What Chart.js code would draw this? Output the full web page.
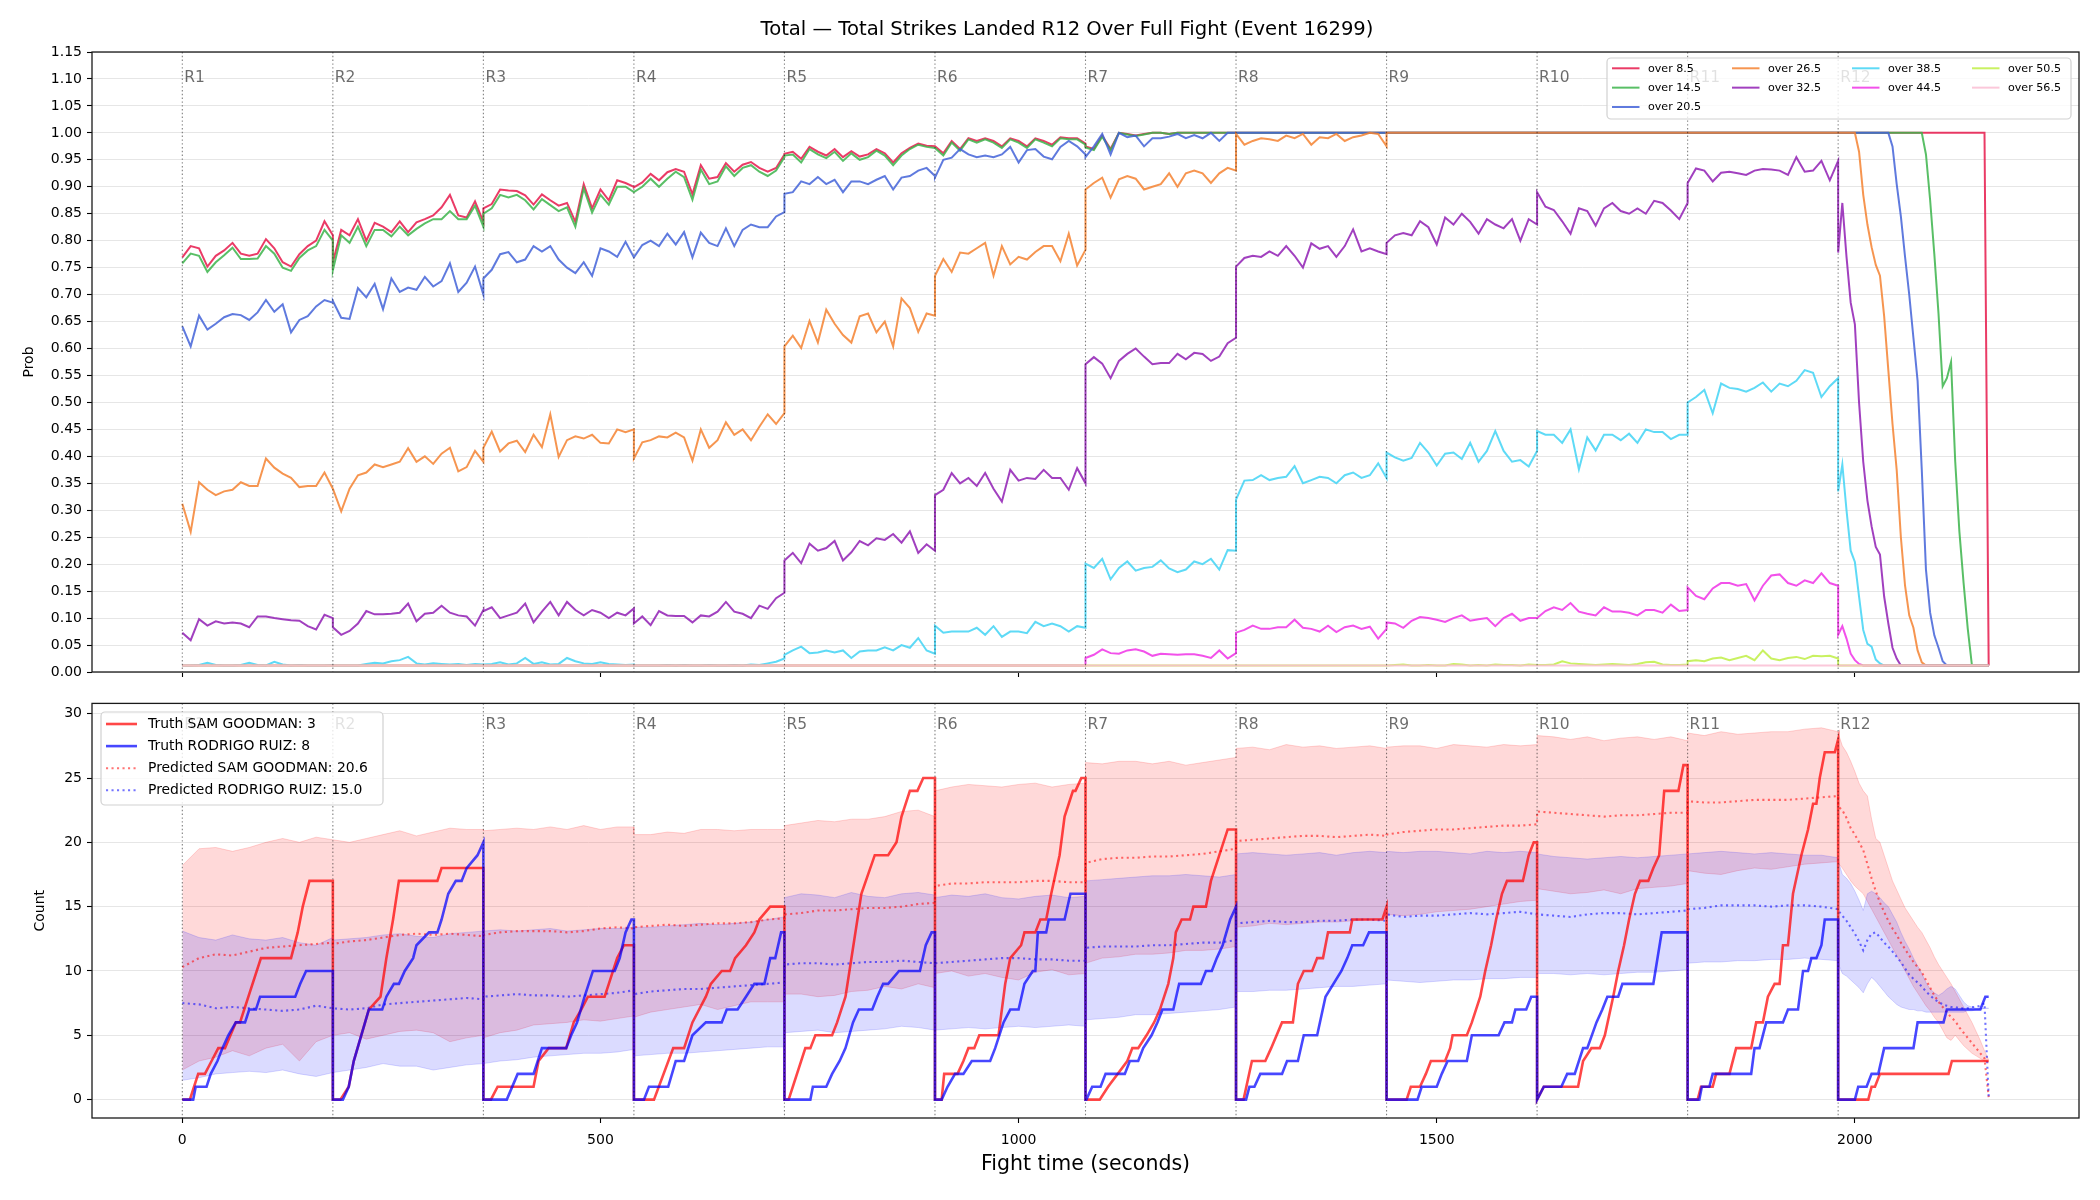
<!DOCTYPE html>
<html><head><meta charset="utf-8">
<script src="https://cdn.jsdelivr.net/npm/chart.js@4.4.1/dist/chart.umd.min.js"></script>
<style>
html,body{margin:0;padding:0;background:#fff;}
#wrap{position:relative;width:2100px;height:1200px;background:#fff;}
canvas{position:absolute;left:0;}
#c1{top:0;}
#c2{top:690px;}
</style></head><body>
<div id="wrap"><canvas id="c1" width="2100" height="690"></canvas><canvas id="c2" width="2100" height="510"></canvas></div>
<script>
// ---------------- data ----------------
const titleText = 'Total \u2014 Total Strikes Landed R12 Over Full Fight (Event 16299)';
const roundStarts = [0,180,360,540,720,900,1080,1260,1440,1620,1800,1980];
const roundNames = ['R1','R2','R3','R4','R5','R6','R7','R8','R9','R10','R11','R12'];
const timeTicks = [0,500,1000,1500,2000];
const probTicks = [0,0.05,0.10,0.15,0.20,0.25,0.30,0.35,0.40,0.45,0.50,0.55,0.60,0.65,0.70,0.75,0.80,0.85,0.90,0.95,1.00,1.05,1.10,1.15];
const countTicks = [0,5,10,15,20,25,30];
const thresholdNames = ['over 8.5','over 14.5','over 20.5','over 26.5','over 32.5','over 38.5','over 44.5','over 50.5','over 56.5'];

// probability per round (R1..R11 sampled every 10 s, a single number = flat round), R12 sampled every 5 s
const p8_5 = [
 [0.769,0.79,0.786,0.752,0.772,0.782,0.796,0.776,0.772,0.776,0.803,0.786,0.76,0.752,0.775,0.79,0.8,0.836,0.81],
 [0.76,0.82,0.81,0.84,0.80,0.833,0.826,0.816,0.836,0.816,0.834,0.84,0.847,0.862,0.885,0.847,0.843,0.873,0.835],
 [0.86,0.868,0.895,0.893,0.892,0.884,0.867,0.886,0.875,0.865,0.87,0.835,0.905,0.86,0.895,0.875,0.912,0.907,0.9],
 [0.899,0.908,0.924,0.912,0.927,0.933,0.928,0.886,0.94,0.915,0.918,0.944,0.928,0.941,0.946,0.935,0.928,0.935,0.96],
 [0.961,0.965,0.952,0.974,0.965,0.958,0.97,0.955,0.966,0.956,0.96,0.97,0.962,0.945,0.962,0.972,0.98,0.976,0.975],
 [0.975,0.962,0.985,0.97,0.99,0.985,0.99,0.985,0.975,0.99,0.985,0.975,0.99,0.985,0.978,0.992,0.99,0.99,0.98],
 [0.975,0.97,0.995,0.97,1,0.998,0.995,0.998,1,1,0.998,1,1,1,1,1,1,1,1],
 1,1,1,1];
const p8_5_r12 = [1,1,1,1,1,1,1,1,1,1,1,1,1,1,1,1,1,1,1,1,1,1,1,1,1,1,1,1,1,1,1,1,1,1,1,1,0.012];

const p14_5 = [
 [0.758,0.776,0.772,0.742,0.76,0.773,0.787,0.766,0.766,0.767,0.79,0.776,0.75,0.744,0.768,0.782,0.79,0.82,0.8],
 [0.745,0.81,0.796,0.826,0.79,0.82,0.82,0.808,0.826,0.81,0.822,0.832,0.84,0.84,0.855,0.84,0.84,0.865,0.826],
 [0.85,0.86,0.885,0.88,0.885,0.875,0.858,0.877,0.866,0.855,0.862,0.826,0.897,0.852,0.885,0.867,0.9,0.9,0.89],
 [0.89,0.9,0.915,0.9,0.915,0.928,0.918,0.876,0.932,0.905,0.91,0.938,0.92,0.935,0.94,0.928,0.92,0.93,0.955],
 [0.958,0.96,0.945,0.97,0.96,0.953,0.965,0.948,0.962,0.95,0.955,0.967,0.958,0.94,0.958,0.97,0.978,0.974,0.972],
 [0.972,0.958,0.982,0.967,0.988,0.982,0.988,0.982,0.972,0.988,0.982,0.972,0.988,0.982,0.975,0.99,0.988,0.988,0.978],
 [0.973,0.968,0.993,0.968,1,0.997,0.994,0.997,1,1,0.998,1,1,1,1,1,1,1,1],
 1,1,1,1];
const p14_5_r12 = [1,1,1,1,1,1,1,1,1,1,1,1,1,1,1,1,1,1,1,1,1,0.96,0.875,0.775,0.665,0.53,0.545,0.575,0.39,0.26,0.165,0.08,0.012,0.012,0.012,0.012,0.012];

const p20_5 = [
 [0.641,0.604,0.661,0.635,0.646,0.658,0.664,0.662,0.653,0.667,0.69,0.668,0.682,0.63,0.653,0.66,0.678,0.69,0.685],
 [0.688,0.657,0.655,0.712,0.695,0.72,0.673,0.73,0.705,0.713,0.709,0.733,0.715,0.725,0.758,0.705,0.722,0.752,0.70],
 [0.73,0.746,0.775,0.779,0.76,0.765,0.79,0.78,0.79,0.765,0.75,0.74,0.76,0.735,0.786,0.78,0.77,0.798,0.769],
 [0.769,0.792,0.8,0.79,0.813,0.793,0.816,0.769,0.815,0.796,0.79,0.823,0.79,0.82,0.83,0.825,0.825,0.845,0.853],
 [0.887,0.89,0.91,0.905,0.918,0.905,0.913,0.89,0.91,0.91,0.905,0.913,0.92,0.895,0.917,0.92,0.93,0.935,0.92],
 [0.917,0.95,0.954,0.97,0.96,0.955,0.958,0.955,0.96,0.974,0.945,0.968,0.97,0.956,0.951,0.974,0.985,0.975,0.96],
 [0.955,0.975,0.998,0.96,1,0.992,0.995,0.975,0.99,0.99,0.993,0.998,0.99,0.996,0.99,1,0.985,1,1],
 1,1,1,1];
const p20_5_r12 = [1,1,1,1,1,1,1,1,1,1,1,1,1,0.975,0.905,0.845,0.77,0.7,0.62,0.54,0.375,0.19,0.11,0.068,0.045,0.02,0.012,0.012,0.012,0.012,0.012,0.012,0.012,0.012,0.012,0.012,0.012];

const p26_5 = [
 [0.312,0.26,0.352,0.338,0.328,0.335,0.338,0.352,0.345,0.345,0.396,0.379,0.368,0.36,0.343,0.345,0.345,0.37,0.34],
 [0.34,0.298,0.34,0.365,0.37,0.385,0.38,0.385,0.39,0.415,0.39,0.4,0.386,0.405,0.416,0.372,0.38,0.41,0.39],
 [0.416,0.446,0.409,0.424,0.429,0.408,0.44,0.417,0.478,0.399,0.43,0.437,0.433,0.44,0.425,0.424,0.45,0.445,0.45],
 [0.396,0.426,0.43,0.437,0.435,0.444,0.435,0.392,0.45,0.416,0.43,0.463,0.44,0.45,0.43,0.455,0.478,0.46,0.48],
 [0.604,0.624,0.601,0.651,0.611,0.672,0.646,0.625,0.611,0.66,0.665,0.63,0.65,0.604,0.693,0.675,0.631,0.665,0.661],
 [0.735,0.766,0.742,0.778,0.776,0.786,0.796,0.735,0.79,0.756,0.77,0.765,0.779,0.79,0.79,0.762,0.813,0.754,0.783],
 [0.895,0.907,0.917,0.88,0.914,0.92,0.915,0.895,0.9,0.905,0.925,0.9,0.925,0.93,0.925,0.907,0.925,0.935,0.93],
 [0.998,0.978,0.985,0.99,0.988,0.985,0.995,0.99,0.998,0.978,0.992,0.99,0.998,0.985,0.992,0.995,1,0.998,0.975],
 1,1,1];
const p26_5_r12 = [1,1,1,1,1,0.965,0.885,0.83,0.788,0.755,0.735,0.66,0.56,0.46,0.375,0.25,0.16,0.105,0.082,0.04,0.018,0.012,0.012,0.012,0.012,0.012,0.012,0.012,0.012,0.012,0.012,0.012,0.012,0.012,0.012,0.012,0.012];

const p32_5 = [
 [0.073,0.059,0.098,0.086,0.094,0.09,0.092,0.09,0.083,0.103,0.103,0.1,0.098,0.096,0.095,0.085,0.079,0.106,0.1],
 [0.083,0.069,0.076,0.09,0.113,0.107,0.107,0.108,0.11,0.127,0.094,0.108,0.11,0.123,0.11,0.105,0.103,0.086,0.115],
 [0.113,0.12,0.1,0.105,0.11,0.127,0.092,0.112,0.13,0.105,0.13,0.115,0.105,0.115,0.11,0.1,0.11,0.105,0.118],
 [0.09,0.103,0.087,0.113,0.105,0.104,0.104,0.092,0.105,0.103,0.112,0.13,0.112,0.108,0.1,0.123,0.117,0.137,0.147],
 [0.207,0.221,0.202,0.238,0.225,0.23,0.243,0.207,0.222,0.243,0.235,0.248,0.245,0.256,0.24,0.261,0.221,0.237,0.225],
 [0.328,0.338,0.369,0.35,0.36,0.345,0.369,0.34,0.316,0.375,0.355,0.36,0.358,0.375,0.36,0.36,0.338,0.378,0.35],
 [0.571,0.584,0.572,0.545,0.577,0.59,0.6,0.585,0.571,0.573,0.573,0.59,0.58,0.592,0.59,0.577,0.585,0.61,0.62],
 [0.752,0.768,0.772,0.77,0.78,0.772,0.79,0.772,0.75,0.795,0.785,0.79,0.77,0.79,0.821,0.78,0.786,0.78,0.775],
 [0.796,0.81,0.814,0.81,0.836,0.825,0.793,0.843,0.83,0.85,0.835,0.813,0.84,0.83,0.823,0.84,0.8,0.84,0.83],
 [0.89,0.863,0.857,0.836,0.813,0.86,0.855,0.828,0.86,0.87,0.855,0.85,0.86,0.85,0.874,0.87,0.856,0.84,0.87],
 [0.907,0.934,0.93,0.91,0.926,0.928,0.925,0.922,0.93,0.933,0.932,0.93,0.922,0.955,0.928,0.93,0.948,0.912,0.948]];
const p32_5_r12 = [0.778,0.87,0.77,0.685,0.645,0.5,0.39,0.318,0.27,0.232,0.218,0.14,0.09,0.045,0.025,0.012,0.012,0.012,0.012,0.012,0.012,0.012,0.012,0.012,0.012,0.012,0.012,0.012,0.012,0.012,0.012,0.012,0.012,0.012,0.012,0.012,0.012];

const p38_5 = [
 [0.012,0.012,0.013,0.017,0.013,0.012,0.012,0.013,0.017,0.013,0.012,0.019,0.014,0.012,0.013,0.012,0.012,0.012,0.013],
 [0.012,0.012,0.012,0.012,0.015,0.017,0.016,0.02,0.022,0.028,0.016,0.014,0.016,0.015,0.014,0.015,0.013,0.015,0.014],
 [0.014,0.015,0.018,0.014,0.016,0.026,0.015,0.018,0.014,0.015,0.026,0.02,0.016,0.015,0.018,0.015,0.014,0.013,0.014],
 [0.012,0.012,0.012,0.012,0.013,0.012,0.013,0.012,0.012,0.013,0.012,0.012,0.013,0.012,0.014,0.013,0.016,0.019,0.025],
 [0.032,0.04,0.047,0.035,0.036,0.04,0.036,0.04,0.026,0.038,0.04,0.04,0.046,0.04,0.05,0.045,0.063,0.04,0.034],
 [0.086,0.073,0.075,0.075,0.075,0.082,0.069,0.085,0.065,0.075,0.075,0.072,0.093,0.085,0.09,0.085,0.075,0.085,0.082],
 [0.201,0.193,0.21,0.172,0.193,0.205,0.188,0.193,0.195,0.207,0.192,0.185,0.19,0.205,0.2,0.21,0.19,0.226,0.225],
 [0.32,0.355,0.356,0.365,0.356,0.36,0.362,0.382,0.35,0.356,0.362,0.36,0.35,0.365,0.37,0.36,0.365,0.387,0.36],
 [0.407,0.398,0.392,0.397,0.425,0.407,0.383,0.405,0.407,0.395,0.425,0.39,0.41,0.447,0.41,0.39,0.393,0.381,0.41],
 [0.447,0.44,0.44,0.425,0.45,0.376,0.435,0.411,0.44,0.44,0.43,0.442,0.425,0.45,0.445,0.445,0.432,0.44,0.44],
 [0.5,0.51,0.523,0.48,0.535,0.527,0.525,0.52,0.527,0.537,0.52,0.535,0.53,0.54,0.56,0.555,0.51,0.53,0.545]];
const p38_5_r12 = [0.335,0.385,0.3,0.225,0.204,0.14,0.078,0.052,0.047,0.023,0.016,0.012,0.012,0.012,0.012,0.012,0.012,0.012,0.012,0.012,0.012,0.012,0.012,0.012,0.012,0.012,0.012,0.012,0.012,0.012,0.012,0.012,0.012,0.012,0.012,0.012,0.012];

const p44_5 = [0.012,0.012,0.012,0.012,0.012,0.012,
 [0.026,0.032,0.042,0.035,0.034,0.04,0.042,0.038,0.03,0.034,0.033,0.032,0.033,0.033,0.03,0.026,0.04,0.025,0.035],
 [0.073,0.078,0.086,0.08,0.08,0.083,0.083,0.097,0.082,0.08,0.075,0.086,0.074,0.083,0.086,0.08,0.084,0.062,0.08],
 [0.092,0.09,0.082,0.095,0.102,0.1,0.097,0.093,0.1,0.105,0.095,0.098,0.1,0.085,0.1,0.108,0.095,0.1,0.1],
 [0.1,0.113,0.12,0.115,0.128,0.112,0.108,0.105,0.12,0.112,0.112,0.11,0.105,0.115,0.115,0.11,0.125,0.113,0.115],
 [0.157,0.141,0.135,0.155,0.165,0.165,0.16,0.163,0.133,0.16,0.179,0.181,0.165,0.16,0.17,0.165,0.183,0.165,0.16]];
const p44_5_r12 = [0.069,0.085,0.062,0.034,0.022,0.015,0.012,0.012,0.012,0.012,0.012,0.012,0.012,0.012,0.012,0.012,0.012,0.012,0.012,0.012,0.012,0.012,0.012,0.012,0.012,0.012,0.012,0.012,0.012,0.012,0.012,0.012,0.012,0.012,0.012,0.012,0.012];

const p50_5 = [0.012,0.012,0.012,0.012,0.012,0.012,0.012,0.012,
 [0.012,0.013,0.014,0.012,0.012,0.013,0.012,0.012,0.015,0.014,0.012,0.013,0.012,0.014,0.013,0.013,0.012,0.014,0.013],
 [0.013,0.013,0.014,0.02,0.016,0.015,0.014,0.013,0.014,0.015,0.014,0.013,0.015,0.018,0.019,0.014,0.013,0.013,0.014],
 [0.02,0.022,0.02,0.025,0.027,0.022,0.026,0.03,0.022,0.04,0.025,0.022,0.026,0.028,0.024,0.03,0.029,0.03,0.025]];
const p50_5_r12 = [0.012,0.012,0.012,0.012,0.012,0.012,0.012,0.012,0.012,0.012,0.012,0.012,0.012,0.012,0.012,0.012,0.012,0.012,0.012,0.012,0.012,0.012,0.012,0.012,0.012,0.012,0.012,0.012,0.012,0.012,0.012,0.012,0.012,0.012,0.012,0.012,0.012];

const p56_5 = [0.012,0.012,0.012,0.012,0.012,0.012,0.012,0.012,0.012,0.012,0.012];
const p56_5_r12 = [0.012,0.012,0.012,0.012,0.012,0.012,0.012,0.012,0.012,0.012,0.012,0.012,0.012,0.012,0.012,0.012,0.012,0.012,0.012,0.012,0.012,0.012,0.012,0.012,0.012,0.012,0.012,0.012,0.012,0.012,0.012,0.012,0.012,0.012,0.012,0.012,0.012];

// truth cumulative strikes per round: [time, count]
const truthSam = [
 [0,0],[9,0],[19,2],[27,2],[35,3],[43,4],[51,4],[64,6],[69,6],[94,11],[130,11],[138,13],[144,15],[152,17],[180,17],
 [180,0],[189,0],[199,1],[205,3],[223,7],[237,8],[244,11],[252,14],[259,17],[305,17],[310,18],[360,18],
 [360,0],[369,0],[377,1],[420,1],[426,3],[438,4],[459,4],[468,6],[477,7],[485,8],[505,8],[510,9],[520,11],[528,12],[540,12],
 [540,0],[564,0],[587,4],[600,4],[610,6],[626,8],[632,9],[645,10],[655,10],[661,11],[674,12],[684,13],[690,14],[703,15],[720,15],
 [720,0],[725,0],[745,4],[751,4],[757,5],[777,5],[783,6],[793,8],[812,16],[828,19],[844,19],[854,20],[860,22],[870,24],[879,24],[886,25],[900,25],
 [900,0],[908,0],[911,2],[927,2],[934,3],[940,4],[947,4],[953,5],[976,5],[984,9],[990,11],[1003,12],[1007,13],[1020,13],[1026,14],[1033,14],[1039,16],[1049,19],[1055,22],[1065,24],[1068,24],[1075,25],[1080,25],
 [1080,0],[1097,0],[1107,1],[1130,3],[1136,4],[1143,4],[1153,5],[1162,6],[1169,7],[1179,9],[1185,11],[1188,13],[1195,14],[1205,14],[1209,15],[1224,15],[1230,17],[1240,19],[1250,21],[1260,21],
 [1260,0],[1269,0],[1279,3],[1295,3],[1302,4],[1315,6],[1328,6],[1334,9],[1341,10],[1351,10],[1357,11],[1364,11],[1370,13],[1396,13],[1399,14],[1435,14],[1440,15],
 [1440,0],[1464,0],[1469,1],[1480,1],[1487,2],[1493,3],[1510,3],[1516,4],[1519,5],[1536,5],[1542,6],[1552,8],[1558,10],[1565,12],[1571,14],[1578,16],[1584,17],[1603,17],[1610,19],[1616,20],[1620,20],
 [1620,0],[1628,1],[1669,1],[1675,3],[1685,4],[1695,4],[1701,5],[1711,8],[1717,10],[1724,12],[1730,14],[1737,16],[1743,17],[1753,17],[1759,18],[1766,19],[1772,24],[1789,24],[1795,26],[1800,26],
 [1800,0],[1812,0],[1816,1],[1830,1],[1834,2],[1850,2],[1858,4],[1876,4],[1882,6],[1890,6],[1896,8],[1904,9],[1910,9],[1914,12],[1920,12],[1926,16],[1936,19],[1944,21],[1950,23],[1954,23],[1958,25],[1964,27],[1976,27],[1980,28],
 [1980,0],[2016,0],[2020,1],[2024,1],[2030,2],[2112,2],[2116,3],[2160,3]];
const truthRodrigo = [
 [0,0],[13,0],[16,1],[29,1],[34,2],[42,3],[48,4],[55,5],[64,6],[75,6],[80,7],[88,7],[93,8],[135,8],[141,9],[148,10],[180,10],
 [180,0],[192,0],[199,1],[205,3],[214,5],[223,7],[239,7],[244,8],[253,9],[259,9],[266,10],[276,11],[280,12],[295,13],[305,13],[310,14],[318,16],[327,17],[334,17],[340,18],[353,19],[360,20],
 [360,0],[388,0],[401,2],[420,2],[430,4],[459,4],[465,5],[472,6],[481,8],[491,10],[517,10],[523,11],[530,13],[537,14],[540,14],
 [540,0],[552,0],[558,1],[581,1],[590,3],[600,3],[610,5],[626,6],[645,6],[651,7],[664,7],[674,8],[684,9],[696,9],[703,11],[709,11],[716,13],[720,13],
 [720,0],[751,0],[754,1],[770,1],[777,2],[786,3],[793,4],[802,6],[809,7],[825,7],[831,8],[838,9],[844,9],[857,10],[882,10],[889,12],[896,13],[900,13],
 [900,0],[908,0],[915,1],[924,2],[934,2],[944,3],[966,3],[972,4],[982,6],[990,7],[1000,7],[1007,9],[1017,10],[1020,10],[1023,13],[1033,13],[1036,14],[1055,14],[1062,16],[1080,16],
 [1080,0],[1081,0],[1088,1],[1098,1],[1104,2],[1127,2],[1133,3],[1143,3],[1149,4],[1159,5],[1166,6],[1172,7],[1185,7],[1192,9],[1218,9],[1224,10],[1231,10],[1237,11],[1244,12],[1253,14],[1260,15],
 [1260,0],[1272,0],[1276,1],[1282,1],[1289,2],[1315,2],[1321,3],[1334,3],[1341,5],[1357,5],[1367,8],[1386,10],[1393,11],[1399,12],[1412,12],[1419,13],[1440,13],
 [1440,0],[1477,0],[1482,1],[1500,1],[1506,2],[1513,3],[1536,3],[1542,5],[1574,5],[1581,6],[1590,6],[1594,7],[1607,7],[1613,8],[1620,8],
 [1620,0],[1628,1],[1649,1],[1656,2],[1665,2],[1675,4],[1680,4],[1691,6],[1698,7],[1704,8],[1717,8],[1722,9],[1759,9],[1769,13],[1800,13],
 [1800,0],[1814,0],[1817,1],[1826,1],[1830,2],[1876,2],[1880,4],[1886,4],[1894,6],[1914,6],[1920,7],[1932,7],[1938,10],[1944,10],[1948,11],[1954,11],[1960,12],[1964,14],[1980,14],
 [1980,0],[2000,0],[2004,1],[2014,1],[2020,2],[2028,2],[2035,4],[2070,4],[2075,6],[2106,6],[2110,7],[2150,7],[2156,8],[2160,8]];

// predicted mean and band per round (R1..R11 every 20 s), R12 every 5 s
const predSam = [
 [10.3,11.0,11.3,11.2,11.5,11.8,11.9,12.0,12.1,12.2],[12.1,12.3,12.4,12.6,12.8,12.9,12.8,12.9,12.8,12.7],
 [12.8,13.0,13.1,13.1,13.1,13.0,13.1,13.3,13.4,13.3],[13.4,13.5,13.6,13.5,13.6,13.7,13.7,13.8,14.0,14.1],
 [14.4,14.5,14.7,14.7,14.8,14.9,14.9,15.0,15.2,15.3],[16.6,16.8,16.8,16.9,16.9,16.9,17.0,17.0,16.9,16.9],
 [18.4,18.7,18.8,18.8,18.9,18.9,19.0,19.1,19.3,19.5],[20.1,20.2,20.3,20.4,20.5,20.5,20.4,20.5,20.6,20.5],
 [20.6,20.8,20.9,21.0,21.0,21.1,21.2,21.3,21.3,21.4],[22.4,22.3,22.2,22.1,22.0,22.1,22.1,22.2,22.3,22.3],
 [23.2,23.1,23.1,23.2,23.3,23.3,23.3,23.4,23.5,23.6]];
const predSam_r12 = [22.8,22.5,21.9,21.1,20.6,20.0,19.4,18.3,17.2,16.2,15.3,14.6,13.9,13.3,12.8,12.2,11.7,11.2,10.7,10.3,9.9,9.3,8.7,8.1,7.6,7.2,6.8,6.4,6.1,5.6,5.2,4.8,4.4,4.0,3.6,3.2,0.2];
const predRodrigo = [
 [7.5,7.4,7.1,7.2,7.1,7.0,6.9,7.0,7.3,7.1],[7.1,7.0,7.1,7.4,7.5,7.6,7.7,7.8,7.9,7.8],
 [8.0,8.1,8.2,8.1,8.1,8.0,8.1,8.2,8.3,8.5],[8.2,8.4,8.5,8.6,8.6,8.7,8.8,8.9,9.0,9.1],
 [10.5,10.6,10.6,10.5,10.6,10.7,10.7,10.8,10.7,10.6],[10.6,10.7,10.8,10.9,11.0,11.0,10.9,10.9,10.8,10.8],
 [11.8,11.9,11.9,11.9,12.0,12.0,12.1,12.2,12.2,12.4],[13.7,13.8,13.9,13.8,13.8,13.9,13.9,14.0,14.0,13.9],
 [14.4,14.2,14.3,14.3,14.4,14.5,14.4,14.5,14.6,14.4],[14.4,14.3,14.2,14.4,14.5,14.5,14.4,14.5,14.6,14.7],
 [14.8,14.9,15.1,15.1,15.1,15.0,15.1,15.1,15.0,14.8]];
const predRodrigo_r12 = [14.7,14.3,13.9,13.4,12.9,12.3,11.6,12.4,12.9,13.0,12.6,12.2,11.9,11.5,11.1,10.7,10.2,9.7,9.4,9.1,8.8,8.4,8.1,7.8,7.6,7.4,7.3,7.2,7.2,7.1,7.1,7.1,7.2,7.2,7.3,7.5,0.2];
const samHigh = [
 [18.2,19.5,19.6,19.3,19.6,20.0,20.3,20.0,20.4,20.2],[20.2,20.0,20.3,20.6,20.9,20.5,20.8,21.1,21.0,21.0],
 [20.9,21.0,21.1,21.0,21.2,21.0,21.3,21.0,21.2,21.2],[20.6,20.6,20.8,20.7,21.0,21.0,20.9,21.0,21.0,21.0],
 [21.3,21.5,21.7,21.6,21.8,21.8,22.0,22.4,22.5,22.0],[24.0,24.3,24.5,24.4,24.3,24.5,24.6,24.3,24.5,24.6],
 [26.2,26.1,26.3,26.3,26.1,26.3,26.0,26.2,26.4,26.6],[27.3,27.4,27.2,27.6,27.4,27.5,27.3,27.4,27.5,27.3],
 [27.4,27.5,27.5,27.3,27.6,27.5,27.4,27.6,27.5,27.6],[28.3,28.2,28.0,28.2,27.9,28.1,28.2,28.0,28.2,27.9],
 [28.5,28.3,28.6,28.4,28.5,28.6,28.6,28.8,28.9,28.6]];
const samHigh_r12 = [28.5,27.5,27.0,26.3,25.5,24.6,24.0,23.6,21.8,20.3,20.0,19.0,18.0,17.0,16.3,15.6,14.9,14.4,13.9,13.4,13.0,12.4,11.8,11.1,10.5,10.0,9.5,9.0,8.4,7.8,7.2,6.6,6.0,5.3,4.6,3.8,3.1];
const samLow = [
 [2.3,3.0,3.3,3.8,3.4,4.0,4.3,3.0,4.5,5.0],[5.0,5.2,4.7,5.0,5.3,5.4,5.2,4.5,4.8,5.0],
 [4.8,5.2,5.4,5.8,5.9,6.0,6.2,6.1,6.3,6.5],[6.4,6.8,7.0,7.2,7.4,7.0,7.3,7.6,7.6,7.6],
 [8.2,8.2,8.0,8.1,8.4,8.5,8.8,8.6,9.0,8.7],[9.8,10.0,9.6,9.8,9.5,9.3,9.9,10.1,9.7,9.8],
 [10.6,11.0,11.1,11.3,11.3,11.4,11.6,11.6,11.7,11.9],[13.4,13.5,13.7,13.6,13.7,13.8,13.8,13.9,14.0,14.1],
 [14.4,14.3,14.4,14.6,14.7,14.8,15.0,15.2,15.4,15.5],[16.4,16.2,16.0,16.1,16.3,16.0,16.4,16.5,16.6,16.8],
 [17.8,17.6,17.5,17.8,18.0,17.9,18.1,18.3,18.4,18.5]];
const samLow_r12 = [18.4,18.0,17.5,17.0,16.6,16.3,16.0,15.4,14.8,14.2,13.6,13.0,12.4,11.8,11.2,10.6,10.0,9.4,8.8,8.3,7.8,7.3,6.9,6.4,6.0,5.4,4.8,4.6,5.0,4.6,4.2,3.9,3.6,3.4,3.2,3.0,2.9];
const rodrigoHigh = [
 [13.1,12.6,12.4,12.8,12.5,12.4,12.6,12.2,12.0,12.6],[12.4,12.5,12.6,12.8,12.9,12.7,12.6,12.9,13.0,13.1],
 [13.1,13.2,13.1,13.2,13.3,13.1,13.2,13.3,13.3,13.4],[13.4,13.4,13.5,13.6,13.7,13.6,13.7,13.8,14.0,14.2],
 [15.7,16.0,15.9,15.7,16.1,15.8,15.7,16.0,16.1,15.9],[15.7,15.9,15.8,16.0,15.7,15.6,15.8,15.9,15.7,15.8],
 [17.0,17.1,17.2,17.3,17.4,17.4,17.5,17.4,17.3,17.5],[19.1,19.2,19.1,19.0,19.1,19.2,19.0,19.2,19.3,19.2],
 [19.3,19.2,19.3,19.3,19.2,19.1,19.3,19.2,19.3,19.2],[19.1,18.9,18.8,18.7,18.8,18.9,18.8,18.9,19.0,19.1],
 [19.1,19.2,19.3,19.2,19.1,19.2,19.1,19.0,19.0,18.8]];
const rodrigoHigh_r12 = [18.6,17.5,17.2,16.8,16.2,15.5,14.7,16.0,16.2,16.0,15.7,15.3,15.0,14.4,13.8,13.0,12.3,11.7,11.0,10.4,9.8,9.1,8.6,8.3,8.1,8.3,8.6,8.8,8.6,8.1,7.6,7.3,7.2,7.1,7.1,7.1,7.1];
const rodrigoLow = [
 [1.5,1.7,2.0,2.1,2.2,2.1,2.3,2.0,1.8,2.1],[2.1,2.3,2.5,2.8,2.6,2.6,2.3,2.5,2.7,2.8],
 [2.8,3.0,3.1,3.3,3.4,3.5,3.6,3.6,3.7,3.9],[3.4,3.5,3.6,3.6,3.7,3.8,3.9,4.0,4.1,4.1],
 [5.2,5.3,5.4,5.2,5.3,5.4,5.5,5.7,5.6,5.4],[5.4,5.5,5.6,5.5,5.6,5.7,5.6,5.7,5.8,5.7],
 [6.2,6.3,6.4,6.6,6.6,6.7,6.8,6.9,7.0,7.2],[8.4,8.4,8.5,8.5,8.6,8.7,8.8,8.8,8.9,9.0],
 [9.3,9.2,9.1,9.2,9.3,9.3,9.4,9.4,9.5,9.5],[9.8,9.8,9.7,9.8,9.7,9.8,9.9,9.9,10.0,10.1],
 [10.6,10.7,10.7,10.8,10.8,10.9,10.9,11.0,10.9,10.8]];
const rodrigoLow_r12 = [10.6,9.8,9.6,9.3,9.0,8.7,8.3,9.0,9.5,9.2,8.8,8.4,8.0,7.7,7.4,7.2,7.1,7.0,7.0,6.9,6.9,6.8,6.8,6.8,6.8,6.8,6.8,6.8,6.8,6.8,6.8,6.9,6.9,7.0,7.0,7.1,7.1];

// ---------------- helpers ----------------
function roundSeries(rounds, last, step, lastStep) {
  const pts = [];
  rounds.forEach((vals, r) => {
    const t0 = roundStarts[r];
    if (Array.isArray(vals)) vals.forEach((v, i) => pts.push({x: t0 + i * step, y: v}));
    else { pts.push({x: t0, y: vals}); pts.push({x: t0 + 180, y: vals}); }
  });
  last.forEach((v, i) => pts.push({x: roundStarts[11] + i * lastStep, y: v}));
  return pts;
}
const pairPts = arr => arr.map(([x, y]) => ({x, y}));

Chart.defaults.font.family = "'DejaVu Sans', 'Liberation Sans', sans-serif";
Chart.defaults.color = '#000';

function drawLegend(chart, L) {
  const ctx = chart.ctx;
  const items = chart.data.datasets.filter(d => d.legendSlot !== undefined).sort((a, b) => a.legendSlot - b.legendSlot);
  ctx.save();
  const r = 4;
  ctx.beginPath();
  ctx.moveTo(L.x + r, L.y);
  ctx.lineTo(L.x + L.w - r, L.y); ctx.arcTo(L.x + L.w, L.y, L.x + L.w, L.y + r, r);
  ctx.lineTo(L.x + L.w, L.y + L.h - r); ctx.arcTo(L.x + L.w, L.y + L.h, L.x + L.w - r, L.y + L.h, r);
  ctx.lineTo(L.x + r, L.y + L.h); ctx.arcTo(L.x, L.y + L.h, L.x, L.y + L.h - r, r);
  ctx.lineTo(L.x, L.y + r); ctx.arcTo(L.x, L.y, L.x + r, L.y, r);
  ctx.closePath();
  ctx.fillStyle = 'rgba(255,255,255,0.8)'; ctx.fill();
  ctx.strokeStyle = 'rgba(204,204,204,0.9)'; ctx.lineWidth = 1.2; ctx.stroke();
  items.forEach((d, k) => {
    const cell = L.cells ? L.cells[k] : [Math.floor(k / L.rows), k % L.rows];
    const hx = L.x + L.padX + cell[0] * L.colW;
    const cy = L.y + L.padY + cell[1] * L.rowH;
    ctx.strokeStyle = d.borderColor;
    ctx.lineWidth = d.borderWidth;
    ctx.setLineDash(d.borderDash || []);
    ctx.beginPath(); ctx.moveTo(hx, cy); ctx.lineTo(hx + L.handleLen, cy); ctx.stroke();
    ctx.setLineDash([]);
    ctx.fillStyle = '#000';
    ctx.font = L.fontSize + "px 'DejaVu Sans'";
    ctx.textAlign = 'left'; ctx.textBaseline = 'middle';
    ctx.fillText(d.label, hx + L.handleLen + L.textGap, cy + 0.5);
  });
  ctx.restore();
}

const decor = {
  id: 'decor',
  afterDatasetsDraw(chart, args, opts) {
    const {ctx, chartArea: a} = chart;
    const xs = chart.scales.x;
    ctx.save();
    ctx.beginPath(); ctx.rect(a.left, a.top, a.right - a.left, a.bottom - a.top); ctx.clip();
    ctx.strokeStyle = 'rgba(0,0,0,0.5)'; ctx.lineWidth = 1.1; ctx.setLineDash([1.4, 2.4]);
    roundStarts.forEach(t => {
      const px = xs.getPixelForValue(t);
      ctx.beginPath(); ctx.moveTo(px, a.top); ctx.lineTo(px, a.bottom); ctx.stroke();
    });
    ctx.setLineDash([]);
    ctx.fillStyle = 'rgba(0,0,0,0.58)';
    ctx.font = "15.5px 'DejaVu Sans'"; ctx.textAlign = 'left'; ctx.textBaseline = 'middle';
    roundStarts.forEach((t, i) => ctx.fillText(roundNames[i], xs.getPixelForValue(t) + 2, opts.labelY));
    ctx.restore();
    drawLegend(chart, opts.legend);
    ctx.save();
    ctx.strokeStyle = '#1a1a1a'; ctx.lineWidth = 1.3;
    ctx.strokeRect(a.left, a.top, a.right - a.left, a.bottom - a.top);
    if (opts.title) {
      ctx.fillStyle = '#000'; ctx.font = opts.title.size + "px 'DejaVu Sans'";
      ctx.textAlign = 'center'; ctx.textBaseline = 'middle';
      ctx.fillText(opts.title.text, opts.title.x, opts.title.y);
    }
    ctx.restore();
  }
};

const xAxisBase = (showLabels) => ({
  type: 'linear', min: -108, max: 2268, bounds: 'data',
  afterBuildTicks: s => { s.ticks = timeTicks.map(v => ({value: v})); },
  grid: {drawOnChartArea: false, drawTicks: true, tickLength: 5, tickColor: '#000', tickWidth: 1.1},
  border: {display: false},
  ticks: {display: showLabels, autoSkip: false, maxRotation: 0, font: {size: 14}, color: '#000', padding: 9, callback: v => String(v)}
});

// ---------------- top chart ----------------
const probColors = ['rgba(230,25,75,0.85)','rgba(60,180,75,0.85)','rgba(67,99,216,0.85)','rgba(245,130,49,0.85)','rgba(145,30,180,0.85)','rgba(66,212,244,0.85)','rgba(240,50,230,0.85)','rgba(191,239,69,0.85)','rgba(250,190,212,0.85)'];
const probRounds = [p8_5, p14_5, p20_5, p26_5, p32_5, p38_5, p44_5, p50_5, p56_5];
const probLast = [p8_5_r12, p14_5_r12, p20_5_r12, p26_5_r12, p32_5_r12, p38_5_r12, p44_5_r12, p50_5_r12, p56_5_r12];

new Chart(document.getElementById('c1'), {
  type: 'line',
  data: {datasets: probRounds.map((rounds, k) => ({
    label: thresholdNames[k], data: roundSeries(rounds, probLast[k], 10, 5),
    borderColor: probColors[k], borderWidth: 2, pointRadius: 0, fill: false, tension: 0,
    order: 8 - k, legendSlot: k
  }))},
  options: {
    responsive: false, animation: false, devicePixelRatio: 1,
    layout: {padding: {left: 0, right: 21, top: 52, bottom: 0}},
    plugins: {
      legend: {display: false}, tooltip: {enabled: false}, title: {display: false},
      decor: {labelY: 78, title: {text: titleText, size: 19.6, x: 1067, y: 29.5},
        legend: {x: 1607, y: 58, w: 464, h: 61, padX: 5, padY: 10.3, rowH: 19.35, colW: 120,
        cells: [[0,0],[0,1],[0,2],[1,0],[1,1],[2,0],[2,1],[3,0],[3,1]], handleLen: 27.5, textGap: 8.5, fontSize: 11.1}}
    },
    scales: {
      x: Object.assign(xAxisBase(false), {afterFit: s => { s.height = 18; }}),
      y: {
        type: 'linear', min: 0, max: 1.15, bounds: 'data',
        afterBuildTicks: s => { s.ticks = probTicks.map(v => ({value: v})); },
        afterFit: s => { s.width = 92; },
        grid: {color: '#e6e6e6', lineWidth: 1, drawTicks: true, tickLength: 5, tickColor: '#000', tickWidth: 1.1},
        border: {display: false},
        ticks: {autoSkip: false, font: {size: 14}, color: '#000', padding: 5, callback: v => v.toFixed(2)},
        title: {display: true, text: 'Prob', font: {size: 14}, color: '#000', padding: {top: 21, bottom: 0}}
      }
    }
  },
  plugins: [decor]
});

// ---------------- bottom chart ----------------
new Chart(document.getElementById('c2'), {
  type: 'line',
  data: {datasets: [
    {label: 'Truth SAM GOODMAN: 3', data: pairPts(truthSam), borderColor: 'rgba(255,0,0,0.72)', borderWidth: 2.6, pointRadius: 0, fill: false, tension: 0, order: 2, legendSlot: 0},
    {label: 'Truth RODRIGO RUIZ: 8', data: pairPts(truthRodrigo), borderColor: 'rgba(0,0,255,0.72)', borderWidth: 2.6, pointRadius: 0, fill: false, tension: 0, order: 1, legendSlot: 1},
    {label: 'Predicted SAM GOODMAN: 20.6', data: roundSeries(predSam, predSam_r12, 20, 5), borderColor: 'rgba(255,0,0,0.55)', borderWidth: 2.1, borderDash: [2.1, 3.4], pointRadius: 0, fill: false, tension: 0, order: 4, legendSlot: 2},
    {label: 'Predicted RODRIGO RUIZ: 15.0', data: roundSeries(predRodrigo, predRodrigo_r12, 20, 5), borderColor: 'rgba(0,0,255,0.55)', borderWidth: 2.1, borderDash: [2.1, 3.4], pointRadius: 0, fill: false, tension: 0, order: 3, legendSlot: 3},
    {label: 'sam high', data: roundSeries(samHigh, samHigh_r12, 20, 5), borderColor: 'rgba(255,0,0,0.16)', backgroundColor: 'rgba(255,0,0,0.15)', borderWidth: 1, pointRadius: 0, fill: '+1', tension: 0, order: 8},
    {label: 'sam low', data: roundSeries(samLow, samLow_r12, 20, 5), borderColor: 'rgba(255,0,0,0.16)', borderWidth: 1, pointRadius: 0, fill: false, tension: 0, order: 7},
    {label: 'rodrigo high', data: roundSeries(rodrigoHigh, rodrigoHigh_r12, 20, 5), borderColor: 'rgba(0,0,255,0.15)', backgroundColor: 'rgba(0,0,255,0.14)', borderWidth: 1, pointRadius: 0, fill: '+1', tension: 0, order: 6},
    {label: 'rodrigo low', data: roundSeries(rodrigoLow, rodrigoLow_r12, 20, 5), borderColor: 'rgba(0,0,255,0.15)', borderWidth: 1, pointRadius: 0, fill: false, tension: 0, order: 5}
  ]},
  options: {
    responsive: false, animation: false, devicePixelRatio: 1,
    layout: {padding: {left: 0, right: 21, top: 10, bottom: 0}},
    plugins: {
      legend: {display: false}, tooltip: {enabled: false}, title: {display: false},
      decor: {labelY: 34.5, legend: {x: 101, y: 22, w: 282, h: 93, padX: 5, padY: 12, rowH: 22.1, colW: 0, rows: 4, handleLen: 31, textGap: 11, fontSize: 13.9}}
    },
    scales: {
      x: Object.assign(xAxisBase(true), {
        afterFit: s => { s.height = 82; },
        title: {display: true, text: 'Fight time (seconds)', font: {size: 20.5}, color: '#000', padding: {top: 0, bottom: 22.7}}
      }),
      y: {
        type: 'linear', min: -1.43, max: 30.8, bounds: 'data',
        afterBuildTicks: s => { s.ticks = countTicks.map(v => ({value: v})); },
        afterFit: s => { s.width = 92; },
        grid: {color: '#e6e6e6', lineWidth: 1, drawTicks: true, tickLength: 5, tickColor: '#000', tickWidth: 1.1},
        border: {display: false},
        ticks: {autoSkip: false, font: {size: 14}, color: '#000', padding: 5, callback: v => String(v)},
        title: {display: true, text: 'Count', font: {size: 14}, color: '#000', padding: {top: 31.6, bottom: 0}}
      }
    }
  },
  plugins: [decor]
});
</script></body></html>
